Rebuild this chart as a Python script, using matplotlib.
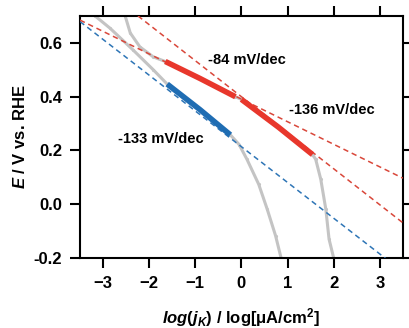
import matplotlib
matplotlib.use("Agg")
import matplotlib.pyplot as plt
import numpy as np

plt.rcParams["font.family"] = "Liberation Sans"
plt.rcParams["font.weight"] = "bold"
plt.rcParams["mathtext.fontset"] = "custom"
plt.rcParams["mathtext.rm"] = "Liberation Sans:bold"
plt.rcParams["mathtext.it"] = "Liberation Sans:italic:bold"
plt.rcParams["mathtext.bf"] = "Liberation Sans:bold"

# grey measured curves (log j, E)
grey_a_logj = [-3.17, -2.85, -2.35, -1.91, -1.61, -0.9, -0.24, -0.05, 0.12, 0.375, 0.56, 0.74, 0.86]
grey_a_E = [0.70, 0.655, 0.574, 0.50, 0.447, 0.352, 0.258, 0.222, 0.167, 0.074, -0.019, -0.117, -0.20]
grey_b_logj = [-2.52, -2.41, -2.2, -1.91, -1.65, -0.9, -0.13, 0.0, 0.8, 1.54, 1.61, 1.72, 1.83, 1.9, 2.0]
grey_b_E = [0.70, 0.637, 0.585, 0.548, 0.531, 0.468, 0.40, 0.39, 0.287, 0.185, 0.167, 0.093, -0.019, -0.13, -0.20]

# Tafel regions highlighted
blue_logj = [-1.61, -0.9, -0.24]
blue_E = [0.447, 0.352, 0.258]
red1_logj = [-1.65, -0.9, -0.13]
red1_E = [0.531, 0.468, 0.40]
red2_logj = [0.0, 0.8, 1.54]
red2_E = [0.39, 0.287, 0.185]

# fitted Tafel lines: intercept (V), slope (V/dec)
fit_intercepts = [0.214, 0.391, 0.400]
fit_slopes = [-0.133, -0.084, -0.134]
fit_colors = ["#2e75b6", "#d9473a", "#d9473a"]

labels = ["-133 mV/dec", "-84 mV/dec", "-136 mV/dec"]
label_x = [-1.74, 0.11, 1.96]
label_y = [0.241, 0.537, 0.352]

fig = plt.figure(figsize=(4.09, 3.28), dpi=100)
ax = fig.add_axes([0.1956, 0.2134, 0.7894, 0.7376])

ax.plot(grey_a_logj, grey_a_E, color="#c4c4c4", lw=2.2, marker=".", ms=2.5, zorder=2)
ax.plot(grey_b_logj, grey_b_E, color="#c4c4c4", lw=2.2, marker=".", ms=2.5, zorder=2)

xfit = np.array([-3.5, 3.5])
for b0, s, c in zip(fit_intercepts, fit_slopes, fit_colors):
    ax.plot(xfit, b0 + s * xfit, color=c, lw=1.1, dashes=(3.5, 2.5), zorder=3)

ax.plot(blue_logj, blue_E, color="#1f6db3", lw=4, solid_capstyle="butt", zorder=4)
ax.plot(red1_logj, red1_E, color="#e8372c", lw=4, solid_capstyle="butt", zorder=4)
ax.plot(red2_logj, red2_E, color="#e8372c", lw=4, solid_capstyle="butt", zorder=4)

for t, x, y in zip(labels, label_x, label_y):
    ax.text(x, y, t, ha="center", va="center", fontsize=10.5, fontweight="bold")

ax.set_xlim(-3.5, 3.5)
ax.set_ylim(-0.2, 0.7)
ax.set_xticks([-3, -2, -1, 0, 1, 2, 3])
ax.set_yticks([-0.2, 0.0, 0.2, 0.4, 0.6])
ax.yaxis.set_major_formatter(matplotlib.ticker.FormatStrFormatter("%.1f"))

for sp in ax.spines.values():
    sp.set_linewidth(1.5)
ax.tick_params(direction="out", length=7, width=1.5, labelsize=12,
               top=True, right=True, pad=6)

ax.set_ylabel(r"$\mathit{E}$ / V vs. RHE", fontsize=12, fontweight="bold", labelpad=4)
ax.set_xlabel(r"$\mathit{log(j_K)}$ / log[μA/cm$^\mathbf{2}$]", fontsize=12,
              fontweight="bold", labelpad=11)

fig.savefig("out.png", dpi=100)
